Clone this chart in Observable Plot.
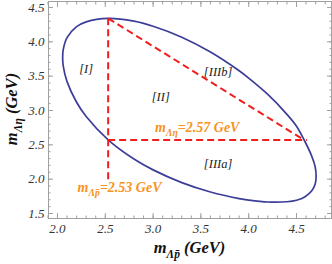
<!DOCTYPE html>
<html><head><meta charset="utf-8">
<script src="https://cdn.jsdelivr.net/npm/d3@7"></script>
<script src="https://cdn.jsdelivr.net/npm/@observablehq/plot@0.6"></script>
<style>body{margin:0;background:#fff;}</style>
</head><body><div id="chart"></div>
<script>
// Dalitz boundary (m_Λp̄, m_Λη) in GeV, clockwise
const boundaryX = [2.054, 2.06, 2.10, 2.20, 2.30, 2.53, 2.80, 3.00, 3.30, 3.60, 3.90, 4.00, 4.20, 4.40, 4.50, 4.58, 4.655, 4.695, 4.705,
                   4.695, 4.66, 4.59, 4.50, 4.40, 4.20, 4.00, 3.90, 3.60, 3.30, 3.00, 2.80, 2.53, 2.30, 2.20, 2.10, 2.06];
const boundaryY = [3.77, 3.885, 4.06, 4.22, 4.29, 4.341, 4.30, 4.226, 4.066, 3.851, 3.578, 3.471, 3.233, 2.944, 2.771, 2.57, 2.35, 2.18, 2.04,
                   1.93, 1.83, 1.745, 1.693, 1.671, 1.667, 1.695, 1.717, 1.813, 1.950, 2.135, 2.293, 2.573, 2.913, 3.120, 3.420, 3.651];

// cut values
const cutMLambdaPbar = 2.53;
const cutMLambdaEta = 2.57;
// dashed cut segments
const segX1 = [2.53, 2.53, 2.53];
const segY1 = [2.00, 2.57, 4.341];
const segX2 = [2.53, 4.61, 4.58];
const segY2 = [4.341, 2.57, 2.57];

// region labels
const regionNames = ["[I]", "[II]", "[IIIb]", "[IIIa]"];
const regionX = [2.30, 3.08, 3.68, 3.68];
const regionY = [3.60, 3.19, 3.56, 2.22];

// cut annotations
const cutMain = ["m", "m"];
const cutSub = ["Λη", "Λp\u0304"];
const cutValue = [cutMLambdaEta, cutMLambdaPbar];
const cutLabelX = [3.02, 2.21];
const cutLabelY = [2.755, 1.88];

// ticks
const xTicks = [2.0, 2.5, 3.0, 3.5, 4.0, 4.5];
const yTicks = [1.5, 2.0, 2.5, 3.0, 3.5, 4.0, 4.5];
const xMinor = d3.range(19, 49).map(i => i / 10);
const yMinor = d3.range(15, 46).map(i => i / 10);

const boundary = boundaryX.map((x, i) => ({x, y: boundaryY[i]}));
const segs = segX1.map((x1, i) => ({x1, y1: segY1[i], x2: segX2[i], y2: segY2[i]}));
const regions = regionNames.map((t, i) => ({t, x: regionX[i], y: regionY[i]}));
const cutLabels = cutMain.map((m, i) => ({
  main: m, sub: cutSub[i], rest: `=${cutValue[i].toFixed(2)} GeV`,
  text: m + cutSub[i] + `=${cutValue[i].toFixed(2)} GeV`, x: cutLabelX[i], y: cutLabelY[i]
}));

const frameGray = "#a0a0a0";
const fmt = d => d.toFixed(1);
const cutFont = 14;

const chart = Plot.plot({
  width: 332, height: 264,
  marginLeft: 48, marginRight: 1, marginTop: 1, marginBottom: 46,
  x: {domain: [1.906, 4.866]},
  y: {domain: [1.427, 4.587]},
  style: {fontFamily: "'Liberation Serif', 'Times New Roman', serif", fontSize: "13px", color: "#222", background: "#fff"},
  marks: [
    Plot.line(boundary, {x: "x", y: "y", curve: "catmull-rom-closed", stroke: "#3d3d99", strokeWidth: 1.7}),
    Plot.link(segs, {x1: "x1", y1: "y1", x2: "x2", y2: "y2", stroke: "#f21d1d", strokeWidth: 2, strokeDasharray: "7,4"}),
    Plot.text(regions, {x: "x", y: "y", text: "t", fontStyle: "italic", fontSize: 12.5, fill: "#222"}),
    Plot.text(cutLabels, {x: "x", y: "y", text: "text", textAnchor: "start", fontStyle: "italic", fontWeight: "bold", fontSize: cutFont, fill: "#f7931e"}),
    Plot.frame({stroke: frameGray}),
    // inward ticks, all four sides
    Plot.axisX(xTicks, {anchor: "bottom", tickSize: -5, fill: "none", stroke: frameGray}),
    Plot.axisX(xMinor, {anchor: "bottom", tickSize: -2.5, fill: "none", stroke: frameGray}),
    Plot.axisX(xTicks, {anchor: "top", tickSize: -5, fill: "none", stroke: frameGray}),
    Plot.axisX(xMinor, {anchor: "top", tickSize: -2.5, fill: "none", stroke: frameGray}),
    Plot.axisY(yTicks, {anchor: "left", tickSize: -5, fill: "none", stroke: frameGray}),
    Plot.axisY(yMinor, {anchor: "left", tickSize: -2.5, fill: "none", stroke: frameGray}),
    Plot.axisY(yTicks, {anchor: "right", tickSize: -5, fill: "none", stroke: frameGray}),
    Plot.axisY(yMinor, {anchor: "right", tickSize: -2.5, fill: "none", stroke: frameGray}),
    // tick labels
    Plot.axisX(xTicks, {anchor: "bottom", tickSize: 0, tickPadding: 5, tickFormat: fmt, fontStyle: "italic", fill: "#333", label: null}),
    Plot.axisY(yTicks, {anchor: "left", tickSize: 0, tickPadding: 4, tickFormat: fmt, fontStyle: "italic", fill: "#333", label: null})
  ]
});
document.getElementById("chart").appendChild(chart);

const NS = "http://www.w3.org/2000/svg";
function setRich(el, parts, size) {
  el.textContent = "";
  let shifted = 0;
  for (const [t, sub] of parts) {
    const ts = document.createElementNS(NS, "tspan");
    ts.textContent = t;
    const target = sub ? size * 0.3 : 0;
    const dy = target - shifted;
    if (dy) ts.setAttribute("dy", dy);
    if (sub) ts.setAttribute("font-size", size * 0.7);
    shifted = target;
    el.appendChild(ts);
  }
}
// subscripts in the cut annotations
const svg = d3.select(chart);
svg.selectAll("text").each(function() {
  const c = cutLabels.find(l => l.text === this.textContent);
  if (c) setRich(this, [[c.main, false], [c.sub, true], [c.rest, false]], cutFont);
});
// axis titles
const W = 332;
const xt = svg.append("text")
  .attr("x", (48 + W - 1) / 2).attr("y", 253)
  .attr("text-anchor", "middle")
  .attr("font-family", "'Liberation Serif', serif").attr("font-style", "italic").attr("font-weight", "bold")
  .attr("font-size", 16.5).attr("fill", "#111");
setRich(xt.node(), [["m", false], ["Λp\u0304", true], [" (GeV)", false]], 16.5);
const yt = svg.append("text")
  .attr("transform", "translate(17,109) rotate(-90)")
  .attr("text-anchor", "middle")
  .attr("font-family", "'Liberation Serif', serif").attr("font-style", "italic").attr("font-weight", "bold")
  .attr("font-size", 16.5).attr("fill", "#111");
setRich(yt.node(), [["m", false], ["Λη", true], [" (GeV)", false]], 16.5);
</script>
</body></html>
